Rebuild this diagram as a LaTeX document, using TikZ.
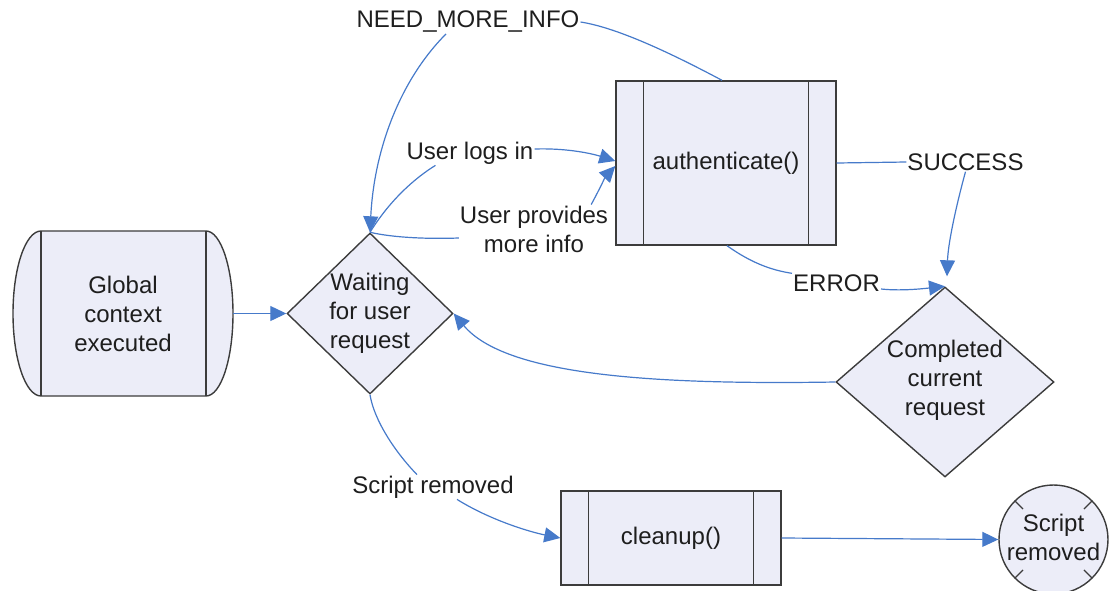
\documentclass[tikz,border=0pt]{standalone}
\usepackage{fontspec}
\setmainfont{Liberation Sans}
\usetikzlibrary{arrows.meta,calc,shapes.geometric}
\definecolor{shfill}{RGB}{236,237,248}
\definecolor{shline}{RGB}{60,60,60}
\definecolor{connc}{RGB}{70,122,202}
\definecolor{txt}{RGB}{30,30,30}
\begin{document}
\begin{tikzpicture}[x=1pt,y=-1pt,
  font=\fontsize{24}{29}\selectfont,
  every node/.style={text=txt},
  shp/.style={draw=shline,fill=shfill,line width=1.4pt},
  inner/.style={draw=shline,line width=1.4pt},
  lbl/.style={inner sep=1pt,align=center},
  conn/.style={draw=connc,line width=1.2pt},
  arr/.style={conn,-{Triangle[length=16pt,width=15pt]}},
]
\useasboundingbox (0,0) rectangle (1109,590);

% Global context executed
\path[shp] (41,231) arc[start angle=90,end angle=270,x radius=28pt,y radius=82.5pt]
  -- (206,396) arc[start angle=-90,end angle=90,x radius=27pt,y radius=82.5pt] -- cycle;
\draw[inner] (41,231) -- (41,396) (206,231) -- (206,396);
\node[minimum width=220pt,minimum height=165pt,inner sep=0pt,
  label={[align=center]center:{Global\\context\\executed}}] (global) at (123,313.5) {};

% Waiting diamond
\node[shp,diamond,minimum width=166pt,minimum height=161pt,inner sep=0pt,
  label={[align=center]center:{Waiting\\for user\\request}}] (wait) at (370,313.5) {};

% authenticate
\node[shp,rectangle,minimum width=220pt,minimum height=164pt,inner sep=0pt,
  label={center:authenticate()}] (auth) at (726,163) {};
\draw[inner] ([xshift=28pt]auth.north west) -- ([xshift=28pt]auth.south west)
  ([xshift=-28pt]auth.north east) -- ([xshift=-28pt]auth.south east);

% Completed current request
\node[shp,diamond,minimum width=218pt,minimum height=190pt,inner sep=0pt,
  label={[align=center,yshift=2pt]center:{Completed\\current\\request}}] (done) at (945,382) {};

% cleanup
\node[shp,rectangle,minimum width=220pt,minimum height=94pt,inner sep=0pt,
  label={center:cleanup()}] (cleanup) at (671,538) {};
\draw[inner] ([xshift=28pt]cleanup.north west) -- ([xshift=28pt]cleanup.south west)
  ([xshift=-28pt]cleanup.north east) -- ([xshift=-28pt]cleanup.south east);

% Script removed end
\node[shp,circle,minimum size=109pt,inner sep=0pt,
  label={[align=center,yshift=2pt]center:{Script\\removed}}] (end) at (1053.5,539.5) {};
\foreach \a in {45,135,225,315}
  \draw[shline,line width=1.1pt] ($(end.center)!0.98!(end.\a)$) -- ($(end.center)!0.78!(end.\a)$);

% connector labels
\node[lbl] (need) at (468,22) {NEED\_MORE\_INFO};
\node[lbl] (login) at (470,153) {User logs in};
\node[lbl] (prov) at (534,229) {User provides\\more info};
\node[lbl] (succ) at (965.5,162) {SUCCESS};
\node[lbl] (err) at (836.5,283) {ERROR};
\node[lbl] (srm) at (433,487) {Script removed};

% connectors
\draw[arr] (global.east) -- (wait.west);

\draw[conn] ([xshift=-4pt]auth.north) .. controls (680,58) and (620,28) .. (need.east);
\draw[arr] ([xshift=-22pt]need.south) .. controls (400,80) and (374,150) .. (wait.north);

\draw[conn] (wait.north) .. controls (390,200) and (415,178) .. ([xshift=30pt]login.south west);
\draw[arr] ([yshift=4pt]login.east) .. controls (565,148) and (590,153) .. ([yshift=2pt]auth.west);

\draw[conn] (wait.north) .. controls (395,238) and (430,239) .. ([yshift=-9pt]prov.west);
\draw[arr] ([xshift=-18pt]prov.north east) .. controls (598,192) and (606,176) .. ([yshift=-3pt]auth.west);

\draw[conn] (auth.east) -- (succ.west);
\draw[arr] (succ.south) .. controls (955,210) and (948,245) .. ([xshift=2pt,yshift=10pt]done.north);

\draw[conn] ([xshift=1pt]auth.south) .. controls (750,262) and (770,270) .. (err.north west);
\draw[arr] ([yshift=-6pt]err.east) .. controls (900,291) and (920,289) .. (done.north);

\draw[arr] (done.west) .. controls (650,385) and (505,375) .. (wait.east);

\draw[conn] (wait.south) .. controls (374,420) and (395,452) .. ([xshift=-16pt]srm.north);
\draw[arr] ([xshift=24pt]srm.south) .. controls (490,520) and (530,532) .. (cleanup.west);

\draw[arr] (cleanup.east) -- (end.west);
\end{tikzpicture}
\end{document}
